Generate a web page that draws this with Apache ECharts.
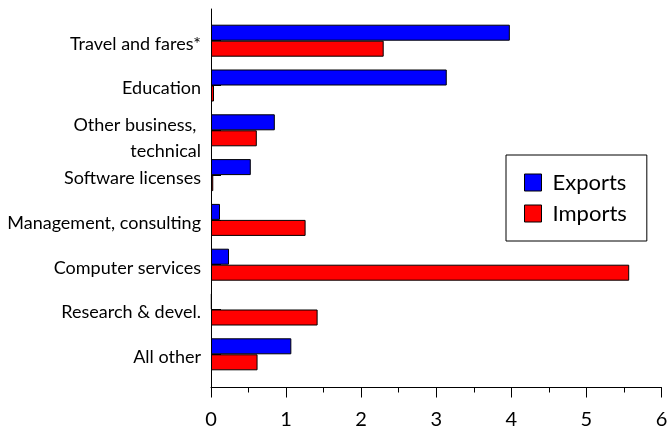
<!DOCTYPE html>
<html>
<head>
<meta charset="utf-8">
<script src="https://cdn.jsdelivr.net/npm/echarts@6/dist/echarts.min.js"></script>
<style>
html,body{margin:0;padding:0;background:#fff;}
#chart{width:672px;height:426px;}
</style>
</head>
<body>
<div id="chart"></div>
<script>
var categories = ['Travel and fares*', 'Education', 'Other business, \ntechnical', 'Software licenses', 'Management, consulting', 'Computer services', 'Research & devel.', 'All other'];
var exportsData = [3.98, 3.14, 0.85, 0.53, 0.12, 0.24, 0.01, 1.07];
var importsData = [2.30, 0.04, 0.61, 0.03, 1.26, 5.57, 1.42, 0.62];
var xTicks = [0, 1, 2, 3, 4, 5, 6];

var FONT = 'Lato';
var chart = echarts.init(document.getElementById('chart'), null, {renderer: 'canvas'});

function labelFormatter(v) {
  var lines = v.split('\n');
  if (lines.length > 1) {
    return '{s2| }\n' + lines.map(function (l) { return '{m|' + l + '}'; }).join('\n');
  }
  return '{s1| }\n{a|' + v + '}';
}

chart.setOption({
  animation: false,
  backgroundColor: '#fff',
  textStyle: {fontFamily: FONT, color: '#000'},
  grid: [
    {left: 211, width: 450.5, top: 9, height: 378.5, containLabel: false, outerBoundsMode: 'none'},
    {left: 211, width: 450.5, top: 18.3, height: 358.4, containLabel: false, outerBoundsMode: 'none'}
  ],
  legend: {
    data: ['Exports', 'Imports'],
    orient: 'vertical',
    left: 506,
    top: 155,
    padding: [16.5, 20, 16.5, 18],
    itemWidth: 17,
    itemHeight: 17,
    itemGap: 9,
    icon: 'rect',
    borderColor: '#000',
    borderWidth: 1,
    borderRadius: 0,
    textStyle: {fontFamily: FONT, fontSize: 22, color: '#000', padding: [0, 0, 0, 6]},
    itemStyle: {borderColor: '#000', borderWidth: 1}
  },
  xAxis: [
    {
      type: 'value', gridIndex: 0, min: xTicks[0], max: xTicks[xTicks.length - 1], interval: 1,
      axisLine: {show: true, lineStyle: {color: '#000', width: 1}},
      axisTick: {show: true, length: 10, lineStyle: {color: '#000'}},
      minorTick: {show: true, splitNumber: 2, length: 5, lineStyle: {color: '#000'}},
      splitLine: {show: false},
      axisLabel: {fontFamily: FONT, fontSize: 20, color: '#000', margin: 22}
    },
    {
      type: 'value', gridIndex: 1, min: 0, max: 6, show: false,
      splitLine: {show: false}
    }
  ],
  yAxis: [
    {
      type: 'value', gridIndex: 0, min: 0, max: 1,
      axisLine: {show: true, onZero: false, lineStyle: {color: '#000', width: 1}},
      axisTick: {show: false}, axisLabel: {show: false}, splitLine: {show: false}
    },
    {
      type: 'category', gridIndex: 1, inverse: true, data: categories,
      axisLine: {show: false},
      axisTick: {show: true, inside: true, alignWithLabel: true, length: 10, lineStyle: {color: '#000'}},
      axisLabel: {
        color: '#000', margin: 10, align: 'right',
        formatter: labelFormatter,
        rich: {
          a: {fontFamily: FONT, fontSize: 18, color: '#000', lineHeight: 20, align: 'right'},
          m: {fontFamily: FONT, fontSize: 18, color: '#000', lineHeight: 26, align: 'right'},
          s1: {fontSize: 1, lineHeight: 6},
          s2: {fontSize: 1, lineHeight: 16}
        }
      },
      splitLine: {show: false},
      z: 5
    }
  ],
  series: [
    {
      name: 'Exports', type: 'bar', xAxisIndex: 1, yAxisIndex: 1, data: exportsData,
      barWidth: 16, barGap: '0%',
      itemStyle: {color: '#0000FF', borderColor: '#000', borderWidth: 1}
    },
    {
      name: 'Imports', type: 'bar', xAxisIndex: 1, yAxisIndex: 1, data: importsData,
      barWidth: 16, barGap: '0%',
      itemStyle: {color: '#FF0000', borderColor: '#000', borderWidth: 1}
    }
  ]
});
</script>
</body>
</html>
